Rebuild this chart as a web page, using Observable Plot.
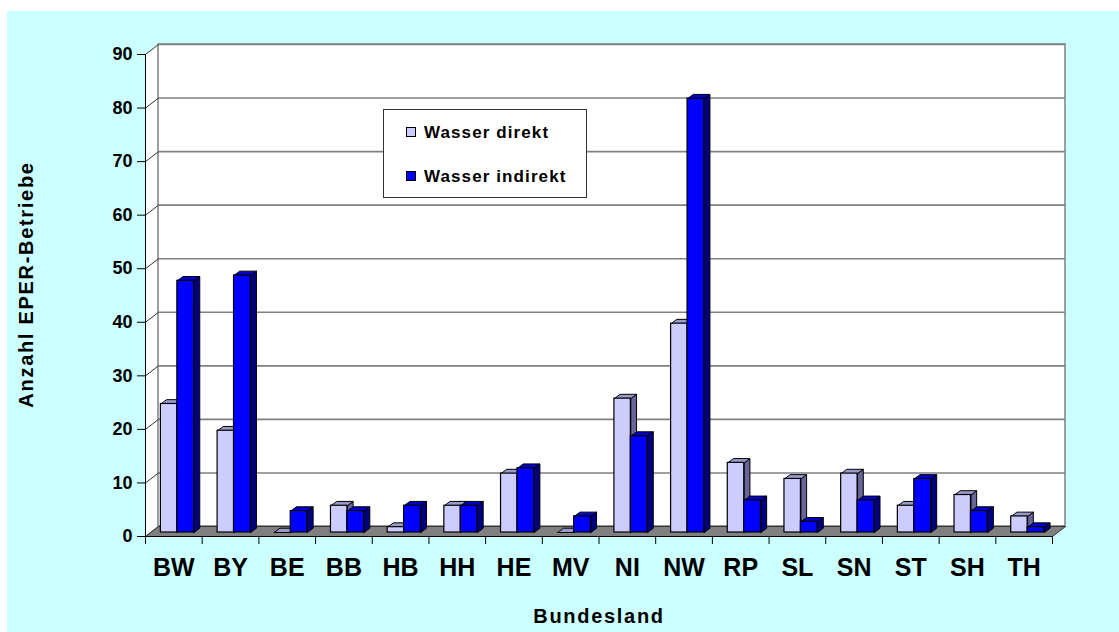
<!DOCTYPE html>
<html>
<head>
<meta charset="utf-8">
<script src="https://cdn.jsdelivr.net/npm/d3@7"></script>
<script src="https://cdn.jsdelivr.net/npm/@observablehq/plot@0.6"></script>
<style>
  html, body { margin: 0; padding: 0; background: #ffffff; }
  #wrap { position: absolute; left: 7px; top: 11px; width: 1112px; height: 621px; background: #CCFFFF; overflow: hidden; }
  #wrap svg { position: absolute; left: 0; top: 0; }
  #legend { position: absolute; left: 376px; top: 98px; width: 204px; height: 89px; box-sizing: border-box;
            background: #ffffff; border: 1px solid #333333;
            font: bold 17px "Liberation Sans", Arial, sans-serif; letter-spacing: 1.1px; color: #000; }
  .item { position: absolute; left: 22px; height: 20px; line-height: 20px; white-space: nowrap; }
  .sw { display: inline-block; width: 8px; height: 8px; border: 1px solid #000; margin-right: 8px; vertical-align: 1px; }
</style>
</head>
<body>
<div id="wrap"></div>
<script>
// ---- data ----
const categories = ["BW","BY","BE","BB","HB","HH","HE","MV","NI","NW","RP","SL","SN","ST","SH","TH"];
const seriesNames = ["Wasser direkt", "Wasser indirekt"];
const wasserDirekt   = [24, 19, 0, 5, 1, 5, 11, 0, 25, 39, 13, 10, 11, 5, 7, 3];
const wasserIndirekt = [47, 48, 4, 4, 5, 5, 12, 3, 18, 81, 6, 2, 6, 10, 4, 1];
const yTicks = [0, 10, 20, 30, 40, 50, 60, 70, 80, 90];
const yTitle = "Anzahl EPER-Betriebe";
const xTitle = "Bundesland";

// ---- layout / style ----
const W = 1112, H = 621, mL = 138, mR = 67, mT = 43, mB = 96;
const n = categories.length;
const yMax = yTicks[yTicks.length - 1];
const kx = (W - mL - mR) / n;      // px per category
const ky = (H - mT - mB) / yMax;   // px per unit
const wdx = 13 / kx, wdy = 10 / ky;        // wall depth in data units
const bdx = 5.7 / kx, bdy = 4.3 / ky;      // bar depth in data units
const barDX = 5.2, barDY = -4;             // bars sit at mid depth (px)
const slots = [[0.18, 0.47], [0.47, 0.765]];
const colors = [
  {front: "#CCCCFF", top: "#9999CC", side: "#666699"},
  {front: "#0000FF", top: "#0000CC", side: "#000080"}
];
const values = [wasserDirekt, wasserIndirekt];

function poly(arr, id, pts) {
  pts.forEach(([x, y]) => arr.push({id, x, y}));
  arr.push({id, x: pts[0][0], y: pts[0][1]});
}

// build faces
const fronts = [[], []], tops = [[], []], sides = [[], []];
values.forEach((vals, s) => {
  vals.forEach((v, i) => {
    const x1 = i + slots[s][0], x2 = i + slots[s][1];
    fronts[s].push({x1, x2, y1: 0, y2: v});
    poly(tops[s], i, [[x1, v], [x2, v], [x2 + bdx, v + bdy], [x1 + bdx, v + bdy]]);
    poly(sides[s], i, [[x2, 0], [x2, v], [x2 + bdx, v + bdy], [x2 + bdx, bdy]]);
  });
});

const leftWall = [], floor = [];
poly(leftWall, 0, [[0, 0], [wdx, wdy], [wdx, yMax + wdy], [0, yMax]]);
poly(floor, 0, [[0, 0], [n, 0], [n + wdx, wdy], [wdx, wdy]]);

const barMarks = [];
[0, 1].forEach(s => {
  barMarks.push(Plot.line(sides[s], {x: "x", y: "y", z: "id", fill: colors[s].side, stroke: "#000", strokeWidth: 1, dx: barDX, dy: barDY}));
  barMarks.push(Plot.line(tops[s], {x: "x", y: "y", z: "id", fill: colors[s].top, stroke: "#000", strokeWidth: 1, dx: barDX, dy: barDY}));
  barMarks.push(Plot.rect(fronts[s], {x1: "x1", x2: "x2", y1: "y1", y2: "y2", fill: colors[s].front, stroke: "#000", strokeWidth: 1.2, dx: barDX, dy: barDY}));
});

const chart = Plot.plot({
  width: W, height: H,
  marginLeft: mL, marginRight: mR, marginTop: mT, marginBottom: mB,
  style: {background: "transparent", fontFamily: "'Liberation Sans', Arial, sans-serif", color: "#000"},
  x: {domain: [0, n], axis: null},
  y: {domain: [0, yMax], axis: null},
  marks: [
    Plot.line(leftWall, {x: "x", y: "y", z: "id", fill: "#ffffff", stroke: "none"}),
    Plot.rect([{x1: wdx, x2: n + wdx, y1: wdy, y2: yMax + wdy}], {x1: "x1", x2: "x2", y1: "y1", y2: "y2", fill: "#ffffff", stroke: "#808080", strokeWidth: 1.5}),
    Plot.ruleY(yTicks, {y: d => d + wdy, x1: wdx, x2: n + wdx, stroke: "#808080", strokeWidth: 1.6}),
    Plot.link(yTicks, {x1: 0, y1: d => d, x2: wdx, y2: d => d + wdy, stroke: "#333333", strokeWidth: 1}),
    Plot.line(floor, {x: "x", y: "y", z: "id", fill: "#808080", stroke: "#333333", strokeWidth: 1}),
    Plot.ruleX([0], {y1: 0, y2: yMax, stroke: "#000", strokeWidth: 1}),
    Plot.ruleY([0], {x1: 0, x2: n, stroke: "#000", strokeWidth: 1}),
    Plot.ruleY(yTicks, {x1: -8 / kx, x2: 0, stroke: "#000", strokeWidth: 1}),
    Plot.ruleX(d3.range(n + 1), {y1: 0, y2: -8 / ky, stroke: "#000", strokeWidth: 1}),
    ...barMarks,
    Plot.text(yTicks, {x: 0, y: d => d, dx: -13, textAnchor: "end", text: d => String(d), fontSize: 18, fontWeight: "bold", fill: "#000"}),
    Plot.text(categories, {x: (d, i) => i + 0.5, y: 0, dy: 31, text: d => d, fontSize: 25, fontWeight: "bold", fill: "#000"}),
    Plot.text([yTitle], {x: -119 / kx, y: yMax / 2 + 11 / ky, rotate: -90, textAnchor: "middle", text: d => d, fontSize: 20, fontWeight: "bold", fill: "#000"}),
    Plot.text([xTitle], {frameAnchor: "bottom", textAnchor: "middle", dx: 0, dy: 86, text: d => d, fontSize: 20, fontWeight: "bold", fill: "#000"})
  ]
});

const wrap = document.getElementById("wrap");
wrap.appendChild(chart);

// letter spacing for axis titles
const textGroups = chart.querySelectorAll('g[aria-label="text"]');
[textGroups[2], textGroups[3]].forEach(g => { if (g) g.setAttribute("letter-spacing", "1.7px"); });

// legend (HTML, placed over the plot area)
const legend = document.createElement("div");
legend.id = "legend";
seriesNames.forEach((name, s) => {
  const item = document.createElement("div");
  item.className = "item";
  item.style.top = (s === 0 ? 13 : 57) + "px";
  const sw = document.createElement("span");
  sw.className = "sw";
  sw.style.background = colors[s].front;
  item.appendChild(sw);
  item.appendChild(document.createTextNode(name));
  legend.appendChild(item);
});
wrap.appendChild(legend);
</script>
</body>
</html>
